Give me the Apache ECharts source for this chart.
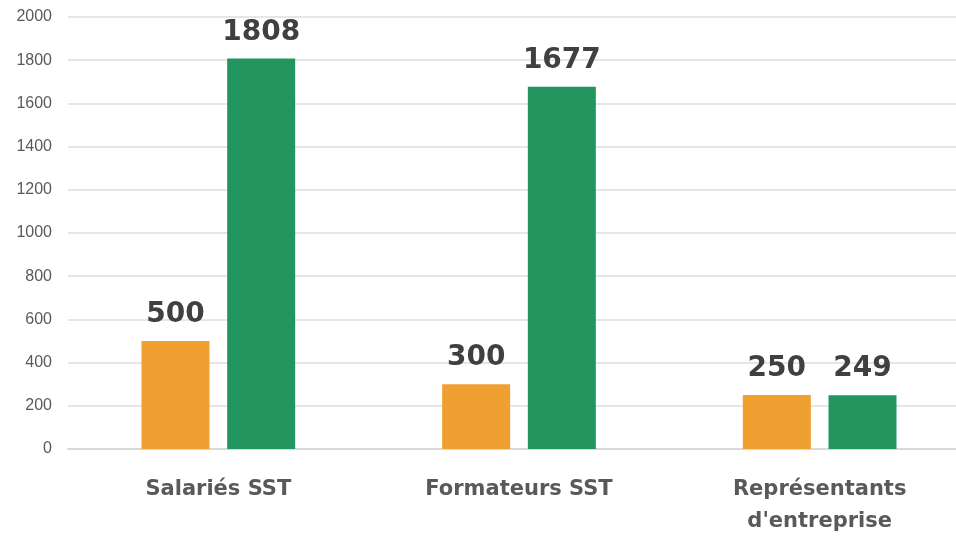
<!DOCTYPE html>
<html>
<head>
<meta charset="utf-8">
<script src="https://cdn.jsdelivr.net/npm/echarts@6/dist/echarts.min.js"></script>
<style>
  html, body { margin: 0; padding: 0; background: #fff; }
  #chart { width: 956px; height: 538px; }
</style>
</head>
<body>
<div id="chart"></div>
<script>
// data
const categories = ['Salariés SST', 'Formateurs SST', 'Représentants\nd\'entreprise'];
const orangeValues = [500, 300, 250];
const greenValues = [1808, 1677, 249];
const yTicks = { min: 0, max: 2000, interval: 200 };

const chart = echarts.init(document.getElementById('chart'));

const valueLabel = {
  show: true,
  position: 'top',
  distance: 12,
  fontFamily: 'DejaVu Sans',
  fontWeight: 'bold',
  fontSize: 28,
  color: '#404040'
};

chart.setOption({
  animation: false,
  // grid runs past the right edge, like in the picture
  grid: { left: 68, width: 902, top: 17, bottom: 89, outerBoundsMode: 'none', containLabel: false },
  xAxis: {
    type: 'category',
    data: categories,
    axisLine: { lineStyle: { color: '#d9d9d9', width: 2 } },
    axisTick: { show: false },
    axisLabel: {
      margin: 25,
      fontFamily: 'DejaVu Sans',
      fontWeight: 'bold',
      fontSize: 21,
      lineHeight: 32,
      color: '#595959'
    }
  },
  yAxis: {
    type: 'value',
    min: yTicks.min,
    max: yTicks.max,
    interval: yTicks.interval,
    axisLine: { show: false },
    axisTick: { show: false },
    axisLabel: {
      margin: 16,
      fontFamily: 'Liberation Sans',
      fontSize: 16,
      color: '#595959',
      formatter: v => String(v)
    },
    splitLine: { lineStyle: { color: '#e6e6e6', width: 2 } }
  },
  series: [
    {
      name: 'orange',
      type: 'bar',
      data: orangeValues,
      barWidth: 68,
      barGap: '26%',
      itemStyle: { color: '#F0A030' },
      label: valueLabel
    },
    {
      name: 'green',
      type: 'bar',
      data: greenValues,
      barWidth: 68,
      itemStyle: { color: '#239660' },
      label: valueLabel
    }
  ]
});
</script>
</body>
</html>
